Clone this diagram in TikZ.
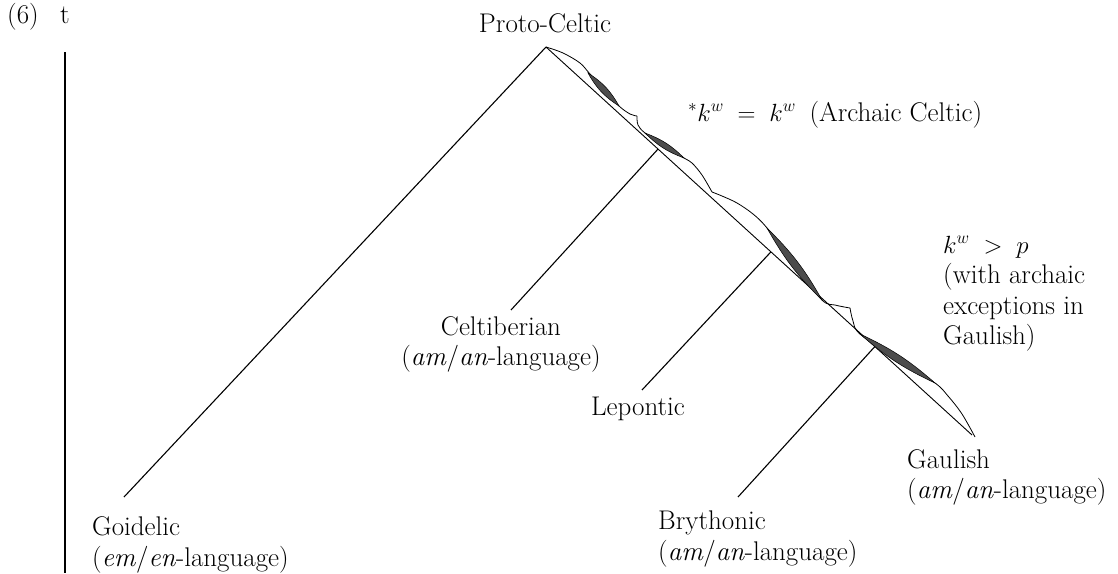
\documentclass[tikz,border=0pt]{standalone}
\usetikzlibrary{calc}
\begin{document}
\begin{tikzpicture}[x=1pt,y=-1pt,
  lbl/.style={inner sep=0pt, font=\fontsize{27}{30.5}\selectfont},
  edge/.style={line width=1.1pt},
  trunk/.style={line width=0.9pt},
  axis/.style={line width=1.4pt},
  wave/.style={line width=0.8pt},
  lens/.style={fill=black!70, draw=black, line width=0.5pt}]
\useasboundingbox (0,0) rectangle (1118,573);
% axis
\node[lbl, anchor=base west] (num) at (7,23) {(6)};
\node[lbl, anchor=base] (tlab) at (65,23) {t};
\coordinate (axtop) at (65,52);
\coordinate (axbot) at (65,573);
\draw[axis] (axtop) -- (axbot);
% labels (base anchor of a multi-line node = baseline of its last line)
\node[lbl, anchor=base] (proto) at (545,32) {Proto-Celtic};
\node[lbl, anchor=base west] (arch) at (688,121) {${}^{*}k^{w} \;=\; k^{w}$\enspace(Archaic Celtic)};
\node[lbl, anchor=base west, align=left] (kp) at (943,344.5) {$k^{w} \;>\; p$\\(with archaic\\exceptions in\\Gaulish)};
\node[lbl, anchor=base, align=center] (celt) at (501,365.5) {Celtiberian\\(\textit{am}/\textit{an}-language)};
\node[lbl, anchor=base] (lep) at (638,415) {Lepontic};
\node[lbl, anchor=base west, align=left] (bry) at (658,560) {Brythonic\\(\textit{am}/\textit{an}-language)};
\node[lbl, anchor=base west, align=left] (gaul) at (907,498.5) {Gaulish\\(\textit{am}/\textit{an}-language)};
\node[lbl, anchor=base west, align=left] (goid) at (92,566) {Goidelic\\(\textit{em}/\textit{en}-language)};
% tree
\coordinate (apex) at (546,47);
\coordinate (gaulend) at (972,435);
\coordinate (goidend) at (124,497);
\coordinate (celtend) at (511,310);
\coordinate (lepend) at (642,390);
\coordinate (bryend) at (738,497);
\coordinate (cbj) at ($(apex)!0.263!(gaulend)$);
\coordinate (lpj) at ($(apex)!0.528!(gaulend)$);
\coordinate (brj) at ($(apex)!0.772!(gaulend)$);
\draw[trunk] (apex) -- (gaulend);
\draw[edge] (apex) -- (goidend);
\draw[edge] (cbj) -- (celtend);
\draw[edge] (lpj) -- (lepend);
\draw[edge] (brj) -- (bryend);
% wavy isogloss line
\draw[wave] plot[smooth, tension=0.55] coordinates {(546,47) (563,53) (580,63) (590,74) (607,92) (619,106) (630,114) (637,116)};
\draw[wave] plot[smooth, tension=0.55] coordinates {(637,116) (638,125) (645,133) (664,146) (684,158) (692,163) (702,175) (712,192)};
\draw[wave] plot[smooth, tension=0.55] coordinates {(712,192) (722,196) (737,203) (753,214) (767,228) (795,265) (822,300) (835,305) (850,308)};
\draw[wave] plot[smooth, tension=0.55] coordinates {(850,308) (853,321) (860,334) (898,360) (935,383) (948,396) (962,414) (975,437)};
\filldraw[lens] (588,73) to[bend left=14] (619,106) to[bend left=14] (588,73) -- cycle;
\filldraw[lens] (645,133) to[bend left=12] (684,158) to[bend left=12] (645,133) -- cycle;
\filldraw[lens] (767,228) to[bend left=8] (822,300) to[bend left=8] (767,228) -- cycle;
\filldraw[lens] (860,334) to[bend left=8] (935,383) to[bend left=8] (860,334) -- cycle;
\end{tikzpicture}
\end{document}
